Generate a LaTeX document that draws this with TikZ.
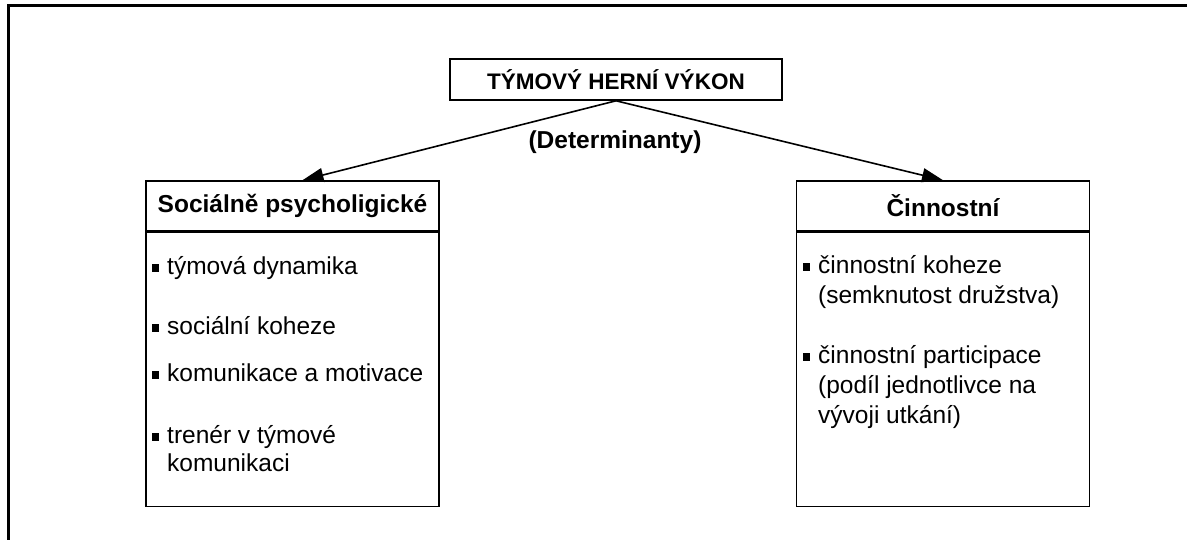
\documentclass[tikz,border=0pt]{standalone}
\usepackage{fontspec}
\setmainfont{Liberation Sans}
\usetikzlibrary{arrows.meta,positioning}

\newcommand{\sqbul}{\raisebox{2.5pt}{\rule{6.5pt}{8pt}}\hspace{8.5pt}}

\tikzset{
  titlebox/.style={draw, line width=1.6pt, inner sep=0pt, minimum width=332pt, minimum height=41pt, font=\bfseries\fontsize{22.5}{27}\selectfont},
  headbox/.style={draw, line width=1.6pt, inner sep=0pt, minimum width=293pt, minimum height=50pt, font=\bfseries\fontsize{24.5}{30}\selectfont},
  bodybox/.style={draw, line width=1.6pt, inner sep=0pt, minimum width=293pt, minimum height=274pt, anchor=north},
  itemtext/.style={anchor=base west, inner sep=0pt, font=\fontsize{24.5}{30}\selectfont},
  link/.style={line width=1.6pt, -{Triangle[length=21pt,width=14pt]}}
}

\begin{document}
\begin{tikzpicture}[x=1pt,y=-1pt]
  \useasboundingbox (0,0) rectangle (1187,540);
  % frame (only top and left edge are visible)
  \draw[line width=3pt] (8,540) -- (8,6) -- (1187,6);

  \node[titlebox] (perf) at (616,79.5) {TÝMOVÝ HERNÍ VÝKON};
  \node[font=\bfseries\fontsize{24.5}{30}\selectfont] (det) at (615,142) {(Determinanty)};

  % left column
  \node[headbox] (soc) at (292.5,206) {Sociálně psycholigické};
  \node[bodybox] (socbody) at (soc.south) {};
  \node[itemtext] (soc1) at (152,274.5) {\sqbul týmová dynamika};
  \node[itemtext] (soc2) at (152,334.5) {\sqbul sociální koheze};
  \node[itemtext] (soc3) at (152,381.5) {\sqbul komunikace a motivace};
  \node[itemtext, font=\fontsize{24.5}{28}\selectfont] (soc4) at (152,443.5) {\sqbul\begin{tabular}[t]{@{}l@{}}trenér v týmové\\komunikaci\end{tabular}};

  % right column
  \node[headbox] (cin) at (943,206) {Činnostní};
  \node[bodybox] (cinbody) at (cin.south) {};
  \node[itemtext] (cin1) at (803,273.5) {\sqbul\begin{tabular}[t]{@{}l@{}}činnostní koheze\\(semknutost družstva)\end{tabular}};
  \node[itemtext] (cin2) at (803,363.5) {\sqbul\begin{tabular}[t]{@{}l@{}}činnostní participace\\(podíl jednotlivce na\\vývoji utkání)\end{tabular}};

  \draw[link] (perf.south) -- ([xshift=10pt]soc.north);
  \draw[link] (perf.south) -- (cin.north);
\end{tikzpicture}
\end{document}
